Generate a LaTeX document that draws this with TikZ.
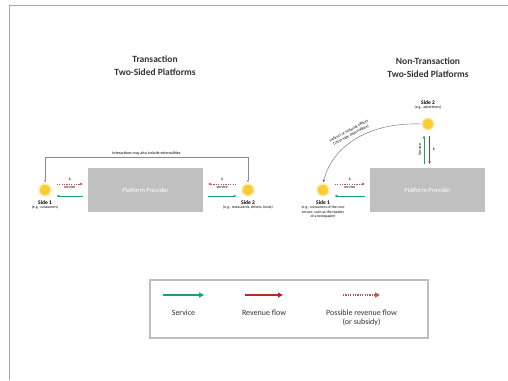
\documentclass[tikz,border=0pt]{standalone}
\usepackage{fontspec}
\setmainfont{Carlito}
\usetikzlibrary{arrows.meta,positioning,calc}
\definecolor{srvgreen}{RGB}{25,160,115}
\definecolor{revred}{RGB}{175,45,35}
\definecolor{sunyellow}{RGB}{250,205,55}
\definecolor{boxgray}{RGB}{192,192,192}

\begin{document}
\begin{tikzpicture}[x=1pt,y=-1pt,
    title/.style={align=center,font=\fontsize{9.5}{13}\selectfont\bfseries,text=black!80},
    side/.style={circle,fill=sunyellow,draw=sunyellow!40,line width=1.5pt,minimum size=12pt,inner sep=0pt},
    sidename/.style={font=\fontsize{5.5}{6}\selectfont\bfseries,inner sep=0.5pt},
    sidenote/.style={font=\fontsize{3.8}{4.6}\selectfont,align=center,inner sep=0.5pt},
    provider/.style={rectangle,fill=boxgray,text=white,font=\fontsize{6.5}{7}\selectfont,
        minimum width=115pt,minimum height=44pt},
    tiny/.style={font=\fontsize{4}{4.6}\selectfont,inner sep=1pt},
    service/.style={draw=srvgreen,line width=0.6pt,-{Triangle[length=2.5pt,width=2.5pt]}},
    revenue/.style={draw=revred,line width=0.6pt,-{Triangle[length=2.5pt,width=2.5pt]}},
    possrev/.style={draw=revred!80,line width=0.6pt,dash pattern=on 1.2pt off 1.2pt,
        -{Triangle[length=2.5pt,width=2.5pt,fill=black!70]}},
    link/.style={draw=black!45,line width=0.4pt,{Triangle[length=2pt,width=2pt]}-{Triangle[length=2pt,width=2pt]}},
    legendbox/.style={rectangle,draw=black!25,line width=1.2pt,minimum width=278pt,minimum height=58pt},
    legendtext/.style={font=\fontsize{8}{9.5}\selectfont,align=center,text=black!80}
]
\useasboundingbox (0,0) rectangle (508,380);

% frame
\draw[black!35,line width=0.8pt] (508,5) -- (9,5) -- (9,380);

% titles
\node[title] (tL) at (155,66) {Transaction\\Two-Sided Platforms};
\node[title] (tR) at (428,68) {Non-Transaction\\Two-Sided Platforms};

% transaction platform
\node[provider] (ppL) at (145.5,190) {Platform Provider};
\node[side] (s1L) at (45,190) {};
\node[sidename,below=3pt of s1L] (n1L) {Side 1};
\node[sidenote,below=0pt of n1L] {(e.g., consumers)};
\node[side] (s2L) at (248,190) {};
\node[sidename,below=3pt of s2L] (n2L) {Side 2};
\node[sidenote,below=0pt of n2L] {(e.g., restaurants, drivers, hosts)};

\draw[possrev,shorten <=5pt,shorten >=5pt] ([yshift=6pt]s1L.east) -- ([yshift=6pt]s1L.east -| ppL.west)
    node[tiny,midway,above=2pt] {\$} node[tiny,midway,below=0.5pt] {service};
\draw[service,shorten <=5pt,shorten >=5pt] ([yshift=-6pt]s1L.east -| ppL.west) -- ([yshift=-6pt]s1L.east);
\draw[possrev,shorten <=5pt,shorten >=5pt] ([yshift=6pt]s2L.west) -- ([yshift=6pt]s2L.west -| ppL.east)
    node[tiny,midway,above=2pt] {\$} node[tiny,midway,below=0.5pt] {service};
\draw[service,shorten <=5pt,shorten >=5pt] ([yshift=-6pt]s2L.west -| ppL.east) -- ([yshift=-6pt]s2L.west);
\draw[link,shorten <=1pt,shorten >=1pt] (s1L.north) -- ++(0,-26) -| (s2L.north)
    node[tiny,pos=0.25,above=0.5pt] {Interactions may also include externalities};

% non-transaction platform
\node[provider] (ppR) at (427.5,190) {Platform Provider};
\node[side] (s1R) at (323,190) {};
\node[sidename,below=3pt of s1R] (n1R) {Side 1};
\node[sidenote,below=0pt of n1R] {(e.g., consumers of the core\\service, such as the readers\\of a newspaper)};
\node[side] (s2R) at (428,124) {};
\node[sidename,above=12pt of s2R] (n2R) {Side 2};
\node[sidenote,below=0pt of n2R] {(e.g., advertisers)};

\draw[possrev,shorten <=5pt,shorten >=5pt] ([yshift=6pt]s1R.east) -- ([yshift=6pt]s1R.east -| ppR.west)
    node[tiny,midway,above=2pt] {\$} node[tiny,midway,below=0.5pt] {service};
\draw[service,shorten <=5pt,shorten >=5pt] ([yshift=-6pt]s1R.east -| ppR.west) -- ([yshift=-6pt]s1R.east);
\draw[service,shorten <=4pt,shorten >=5pt] ([xshift=-4pt]s2R.south |- ppR.north) -- ([xshift=-4pt]s2R.south)
    node[tiny,midway,left=1.5pt,rotate=90,anchor=south] {Service};
\draw[revenue,shorten <=5pt,shorten >=4pt] ([xshift=1.5pt]s2R.south) -- ([xshift=1.5pt]s2R.south |- ppR.north)
    node[tiny,midway,right=2pt] {\$};
\draw[link,draw=black!60,-{Triangle[length=2.5pt,width=2.5pt]},shorten >=1pt]
    (s2R.west) .. controls (370,122) and (333,145) .. (s1R.north);
\node[tiny,align=center,rotate=28] (fx) at (350,133) {Indirect or network effects\\(cross-side externalities)};

% legend
\node[legendbox] (lg) at (289,309) {};
\foreach \sty/\xa/\xb/\txt [count=\k] in {service/163/204/Service,
    revenue/245/283/Revenue flow,
    possrev/343/380/{Possible revenue flow\\(or subsidy)}} {
  \coordinate (la\k) at (\xa,295);
  \coordinate (lb\k) at (\xb,295);
  \draw[\sty,line width=1.3pt,-{Triangle[length=5pt,width=5pt]}] (la\k) -- (lb\k);
  \node[legendtext,anchor=north] at ($(la\k)!0.5!(lb\k)+(0,11)$) {\txt};
}
\end{tikzpicture}
\end{document}
